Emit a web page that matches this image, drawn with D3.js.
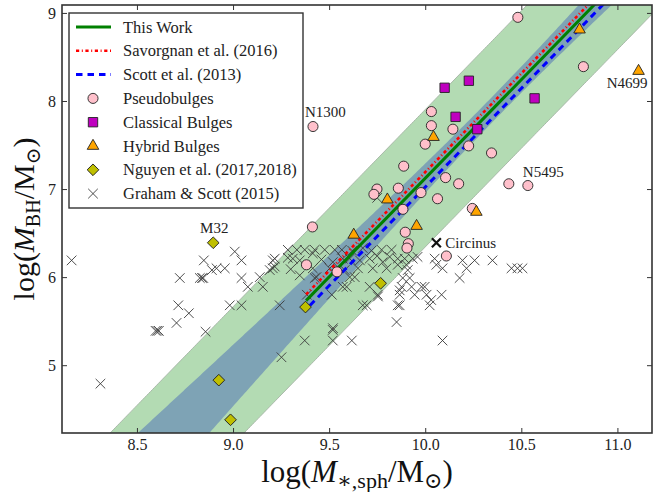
<!DOCTYPE html>
<html>
<head>
<meta charset="utf-8">
<script src="https://cdn.jsdelivr.net/npm/d3@7"></script>
<style>
  body { margin: 0; background: #fff; }
  #visualization { width: 660px; height: 492px; }
  svg { font-family: "Liberation Serif", "DejaVu Serif", serif; }
</style>
</head>
<body>
<div id="visualization"></div>
<script>
// values: [log M*,sph, log M_BH]
const pseudobulges = [
  [10.482, 8.95], [10.823, 8.39], [9.416, 7.71], [10.032, 7.88], [10.032, 7.72],
  [10.144, 7.68], [10.0, 7.51], [10.226, 7.49], [10.345, 7.41], [9.888, 7.26],
  [10.106, 7.13], [10.174, 7.06], [10.435, 7.06], [10.534, 7.04], [9.749, 7.0],
  [9.733, 6.94], [9.86, 7.01], [9.978, 6.96], [10.064, 6.89], [10.245, 6.78],
  [9.884, 6.77], [9.413, 6.57], [9.896, 6.51], [9.912, 6.38], [9.905, 6.33],
  [10.11, 6.24], [9.541, 6.06], [9.382, 6.14]
];
const classicalBulges = [
  [10.101, 8.15], [10.227, 8.23], [10.569, 8.03], [10.158, 7.82], [10.271, 7.68]
];
const hybridBulges = [
  [10.803, 8.81], [11.11, 8.34], [10.043, 7.59], [9.803, 6.88], [9.955, 6.58],
  [10.266, 6.74], [9.628, 6.48]
];
const nguyen = [
  [8.897, 6.39], [9.377, 5.66], [8.926, 4.83], [8.987, 4.38], [9.768, 5.93]
];
const grahamScott = [
  [8.16, 6.19], [8.31, 4.79], [8.597, 5.39], [8.606, 5.39], [8.614, 5.39], [8.706, 5.48],
  [8.715, 5.68], [8.77, 5.59], [8.723, 5.99], [8.827, 5.99], [8.838, 5.99], [8.845, 5.99],
  [8.848, 6.19], [8.857, 5.38], [8.89, 6.08], [8.914, 6.10], [8.957, 6.10], [8.983, 5.68],
  [9.009, 6.29], [9.044, 6.19], [9.044, 5.99], [9.044, 5.68], [9.077, 5.89], [9.139, 6.0],
  [9.155, 5.89], [9.191, 6.08], [9.207, 6.19], [9.217, 6.21], [9.217, 6.12], [9.243, 5.68],
  [9.252, 5.09],
  [9.285, 6.31], [9.332, 6.31], [9.373, 6.31], [9.425, 6.31], [9.477, 6.31], [9.529, 6.31],
  [9.566, 6.31], [9.675, 6.33], [9.773, 6.31], [9.825, 6.31], [9.62, 6.30], [9.72, 6.30],
  [9.285, 6.22], [9.311, 6.21], [9.347, 6.19], [9.415, 6.27], [9.519, 6.17], [9.571, 6.21],
  [9.607, 6.21], [9.711, 6.21], [9.779, 6.17], [9.815, 6.23], [9.857, 6.21], [9.893, 6.21],
  [9.935, 6.21], [9.96, 6.23], [10.049, 6.21], [10.194, 6.19], [10.257, 6.19], [10.35, 6.19],
  [9.46, 6.20], [9.66, 6.19], [9.75, 6.24],
  [9.207, 6.10], [9.415, 6.10], [9.503, 6.10], [9.581, 6.08], [9.727, 6.10], [9.799, 6.10],
  [9.857, 6.14], [9.902, 6.14], [9.909, 6.08], [10.058, 6.14], [10.09, 6.10], [10.215, 6.10],
  [10.449, 6.10], [10.48, 6.10], [10.506, 6.10], [9.3, 6.09], [9.65, 6.10],
  [9.347, 6.02], [9.425, 5.99], [9.434, 6.0], [9.607, 6.0], [9.633, 6.0], [9.883, 5.99],
  [9.919, 5.99], [10.179, 5.99],
  [9.571, 5.89], [9.591, 5.89], [9.711, 5.89], [9.877, 5.89], [9.929, 5.89], [9.981, 5.89],
  [9.997, 5.89], [9.867, 5.85],
  [9.384, 5.80], [9.514, 5.80], [9.753, 5.80], [9.867, 5.80], [9.945, 5.80], [10.007, 5.80],
  [10.085, 5.80], [10.031, 5.74], [9.754, 5.78],
  [9.675, 5.68], [9.695, 5.68], [9.857, 5.68], [10.023, 5.68], [9.867, 5.68],
  [9.851, 5.49], [9.519, 5.40], [9.52, 5.42], [9.373, 5.28], [9.519, 5.28], [9.618, 5.28],
  [10.09, 5.28], [9.75, 6.90]
];
const circinus = [10.058, 6.39];

// fitted relations: y = y0 + slope * (x - x0)
const thisWork = { slope: 2.24, x0: 10.24, y0: 7.66, xStart: 9.38 };
const savorgnan = { slope: 2.24, x0: 10.24, y0: 7.73, xStart: 9.38 };
const scott = { slope: 2.24, x0: 10.24, y0: 7.56, xStart: 9.40 };
const rmsScatter = 0.78;
const fitError = { intercept: 0.145, slope: 0.235, pivot: 10.35 };

const xTicks = [8.5, 9.0, 9.5, 10.0, 10.5, 11.0];
const yTicks = [5, 6, 7, 8, 9];
const xDomain = [8.11, 11.18];
const yDomain = [4.23, 9.09];

const annotations = [
  { text: 'N1300', at: [9.416, 7.71], dx: -8, dy: -10, anchor: 'start' },
  { text: 'N5495', at: [10.534, 7.04], dx: -5, dy: -9, anchor: 'start' },
  { text: 'N4699', at: [11.11, 8.34], dx: 9, dy: 17, anchor: 'end' },
  { text: 'M32', at: [8.897, 6.39], dx: 1, dy: -10, anchor: 'middle' },
  { text: 'Circinus', at: circinus, dx: 9, dy: 5, anchor: 'start' }
];

const legendLabels = [
  'This Work', 'Savorgnan et al. (2016)', 'Scott et al. (2013)', 'Pseudobulges',
  'Classical Bulges', 'Hybrid Bulges', 'Nguyen et al. (2017,2018)', 'Graham & Scott (2015)'
];

const viz = {
  margin: { left: 62, right: 8, top: 5, bottom: 59 },

  init() {
    this.width = 660;
    this.height = 492;
    this.svg = d3.select('#visualization').append('svg')
      .attr('width', this.width)
      .attr('height', this.height);

    this.x = d3.scaleLinear().domain(xDomain)
      .range([this.margin.left, this.width - this.margin.right]);
    this.y = d3.scaleLinear().domain(yDomain)
      .range([this.height - this.margin.bottom, this.margin.top]);

    this.svg.append('clipPath').attr('id', 'plot-clip')
      .append('rect')
      .attr('x', this.margin.left)
      .attr('y', this.margin.top)
      .attr('width', this.width - this.margin.left - this.margin.right)
      .attr('height', this.height - this.margin.top - this.margin.bottom);

    this.plot = this.svg.append('g').attr('clip-path', 'url(#plot-clip)');

    this.drawBands();
    this.drawCrosses();
    this.drawLines();
    this.drawMarkers();
    this.drawAnnotations();
    this.drawAxes();
    this.drawLegend();
  },

  fit(rel, x) {
    return rel.y0 + rel.slope * (x - rel.x0);
  },

  drawBands() {
    const xs = d3.range(xDomain[0] - 0.3, xDomain[1] + 0.3, 0.01);
    const err = (x) => Math.sqrt(fitError.intercept ** 2 + (fitError.slope * (x - fitError.pivot)) ** 2);

    const outer = d3.area()
      .x((d) => this.x(d))
      .y0((d) => this.y(this.fit(thisWork, d) - rmsScatter))
      .y1((d) => this.y(this.fit(thisWork, d) + rmsScatter));
    this.plot.append('path').datum(xs)
      .attr('d', outer)
      .attr('fill', '#b3dbb3')
      .attr('stroke', '#a9b9a9')
      .attr('stroke-width', 1);

    const inner = d3.area()
      .x((d) => this.x(d))
      .y0((d) => this.y(this.fit(thisWork, d) - err(d)))
      .y1((d) => this.y(this.fit(thisWork, d) + err(d)));
    this.plot.append('path').datum(xs)
      .attr('d', inner)
      .attr('fill', '#7ea3b5');
  },

  crossPath(r) {
    return `M${-r},${-r}L${r},${r}M${-r},${r}L${r},${-r}`;
  },

  drawCrosses() {
    this.plot.append('g').selectAll('path')
      .data(grahamScott)
      .join('path')
      .attr('transform', (d) => `translate(${this.x(d[0])},${this.y(d[1])})`)
      .attr('d', this.crossPath(4.8))
      .attr('fill', 'none')
      .attr('stroke', '#3a3a3a')
      .attr('stroke-width', 0.9);

    this.plot.append('path')
      .attr('transform', `translate(${this.x(circinus[0])},${this.y(circinus[1])})`)
      .attr('d', this.crossPath(4.5))
      .attr('stroke', '#111')
      .attr('stroke-width', 2.2);
  },

  drawLines() {
    const line = (rel) => {
      const xs = [rel.xStart, xDomain[1] + 0.2];
      return d3.line()
        .x((d) => this.x(d))
        .y((d) => this.y(this.fit(rel, d)))(xs);
    };
    this.plot.append('path').attr('d', line(thisWork))
      .attr('stroke', '#008000').attr('stroke-width', 3).attr('fill', 'none');
    this.plot.append('path').attr('d', line(savorgnan))
      .attr('stroke', '#ff0000').attr('stroke-width', 2.6).attr('fill', 'none')
      .attr('stroke-dasharray', '3.2,2.6,1,2.6');
    this.plot.append('path').attr('d', line(scott))
      .attr('stroke', '#0000ff').attr('stroke-width', 3).attr('fill', 'none')
      .attr('stroke-dasharray', '6.5,5');
  },

  markerStyles() {
    return [
      { data: pseudobulges, type: d3.symbolCircle, size: 80, fill: '#ffc0cb', rotate: 0 },
      { data: classicalBulges, type: d3.symbolSquare, size: 88, fill: '#bf00bf', rotate: 0 },
      { data: hybridBulges, type: d3.symbolTriangle, size: 58, fill: '#ffa500', rotate: 0 },
      { data: nguyen, type: d3.symbolSquare, size: 68, fill: '#bfbf00', rotate: 45 }
    ];
  },

  drawMarkers() {
    for (const s of this.markerStyles()) {
      this.plot.append('g').selectAll('path')
        .data(s.data)
        .join('path')
        .attr('transform', (d) => `translate(${this.x(d[0])},${this.y(d[1])}) rotate(${s.rotate})`)
        .attr('d', d3.symbol().type(s.type).size(s.size))
        .attr('fill', s.fill)
        .attr('stroke', '#222')
        .attr('stroke-width', 0.9);
    }
  },

  drawAnnotations() {
    this.svg.append('g').selectAll('text')
      .data(annotations)
      .join('text')
      .attr('x', (d) => this.x(d.at[0]) + d.dx)
      .attr('y', (d) => this.y(d.at[1]) + d.dy)
      .attr('text-anchor', (d) => d.anchor)
      .attr('font-size', 15)
      .attr('fill', '#222')
      .text((d) => d.text);
  },

  drawAxes() {
    const h = this.height - this.margin.bottom;
    const w = this.width - this.margin.right;
    const styleAxis = (g) => {
      g.select('.domain').remove();
      g.selectAll('.tick line').attr('stroke', '#333').attr('stroke-width', 1);
      g.selectAll('.tick text').attr('font-family', '"Liberation Serif", serif')
        .attr('font-size', 16).attr('fill', '#222');
    };

    this.svg.append('g').attr('transform', `translate(0,${h})`)
      .call(d3.axisBottom(this.x).tickValues(xTicks).tickFormat(d3.format('.1f'))
        .tickSize(-5).tickPadding(6))
      .call(styleAxis);
    this.svg.append('g').attr('transform', `translate(0,${this.margin.top})`)
      .call(d3.axisTop(this.x).tickValues(xTicks).tickFormat('').tickSize(-5))
      .call(styleAxis);
    this.svg.append('g').attr('transform', `translate(${this.margin.left},0)`)
      .call(d3.axisLeft(this.y).tickValues(yTicks).tickFormat(d3.format('d'))
        .tickSize(-5).tickPadding(6))
      .call(styleAxis);
    this.svg.append('g').attr('transform', `translate(${w},0)`)
      .call(d3.axisRight(this.y).tickValues(yTicks).tickFormat('').tickSize(-5))
      .call(styleAxis);

    this.svg.append('rect')
      .attr('x', this.margin.left).attr('y', this.margin.top)
      .attr('width', w - this.margin.left).attr('height', h - this.margin.top)
      .attr('fill', 'none').attr('stroke', '#333').attr('stroke-width', 1.6);

    // x axis label
    const xl = this.svg.append('text')
      .attr('x', 357).attr('y', 482)
      .attr('text-anchor', 'middle').attr('font-size', 31).attr('fill', '#111');
    xl.append('tspan').text('log(');
    xl.append('tspan').attr('font-style', 'italic').text('M');
    xl.append('tspan').attr('font-size', 22).attr('dy', 6).text('∗,sph');
    xl.append('tspan').attr('dy', -6).text('/M');
    xl.append('tspan').attr('font-size', 22).attr('dy', 6).text('⊙');
    xl.append('tspan').attr('dy', -6).text(')');

    // y axis label
    const yl = this.svg.append('text')
      .attr('transform', `translate(34,${(this.margin.top + h) / 2}) rotate(-90)`)
      .attr('text-anchor', 'middle').attr('font-size', 30).attr('fill', '#111');
    yl.append('tspan').text('log(');
    yl.append('tspan').attr('font-style', 'italic').text('M');
    yl.append('tspan').attr('font-size', 20).attr('dy', 6).text('BH');
    yl.append('tspan').attr('dy', -6).text('/M');
    yl.append('tspan').attr('font-size', 20).attr('dy', 6).text('⊙');
    yl.append('tspan').attr('dy', -6).text(')');
  },

  drawLegend() {
    const box = { x: 69, y: 13, w: 234, h: 195 };
    const step = 23.8;
    const g = this.svg.append('g');
    g.append('rect')
      .attr('x', box.x).attr('y', box.y).attr('width', box.w).attr('height', box.h)
      .attr('fill', '#fff').attr('stroke', '#333').attr('stroke-width', 1.4);

    const rowY = (i) => box.y + 14 + i * step;
    const lineStyles = [
      { stroke: '#008000', width: 3, dash: null },
      { stroke: '#ff0000', width: 2.6, dash: '3.2,2.6,1,2.6' },
      { stroke: '#0000ff', width: 3, dash: '6.5,5' }
    ];
    lineStyles.forEach((s, i) => {
      g.append('line')
        .attr('x1', 76).attr('x2', 111).attr('y1', rowY(i)).attr('y2', rowY(i))
        .attr('stroke', s.stroke).attr('stroke-width', s.width)
        .attr('stroke-dasharray', s.dash);
    });
    this.markerStyles().forEach((s, i) => {
      g.append('path')
        .attr('transform', `translate(93,${rowY(i + 3)}) rotate(${s.rotate})`)
        .attr('d', d3.symbol().type(s.type).size(s.size))
        .attr('fill', s.fill).attr('stroke', '#222').attr('stroke-width', 0.9);
    });
    g.append('path')
      .attr('transform', `translate(93,${rowY(7)})`)
      .attr('d', this.crossPath(4.8))
      .attr('stroke', '#3a3a3a').attr('stroke-width', 0.9);

    g.selectAll('text.label')
      .data(legendLabels)
      .join('text')
      .attr('class', 'label')
      .attr('x', 123)
      .attr('y', (d, i) => rowY(i) + 5.5)
      .attr('font-size', 16.5)
      .attr('fill', '#222')
      .text((d) => d);
  }
};

viz.init();
</script>
</body>
</html>
